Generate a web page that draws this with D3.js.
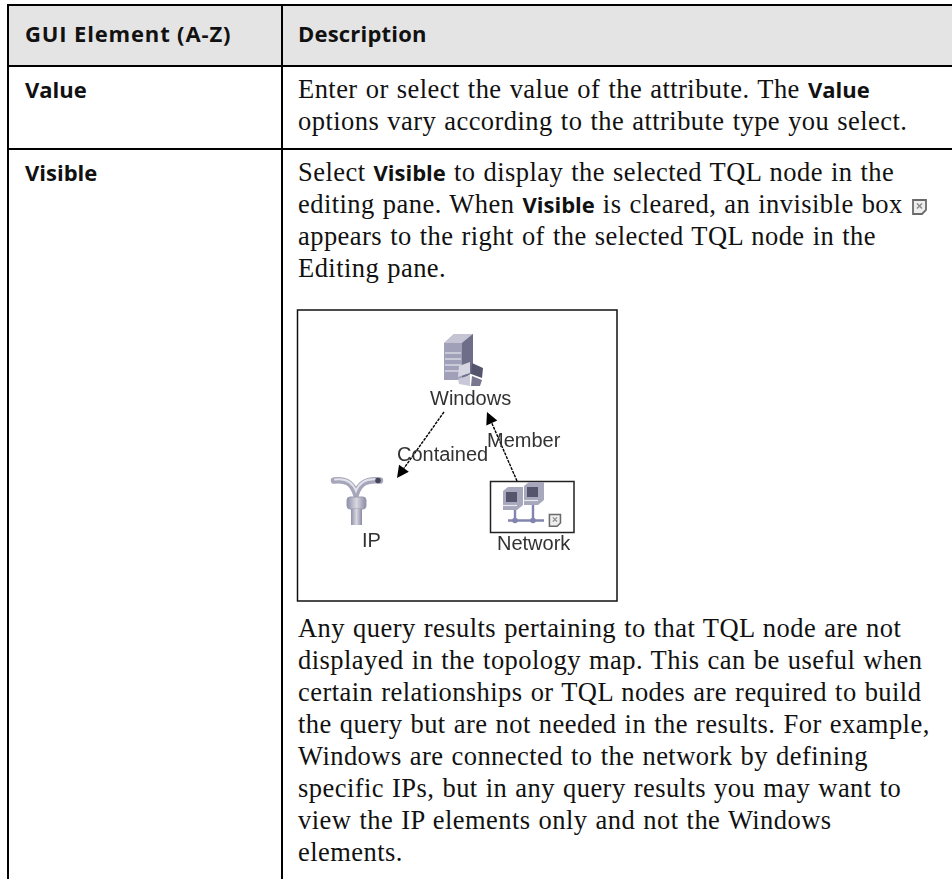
<!DOCTYPE html>
<html>
<head>
<meta charset="utf-8">
<script src="https://d3js.org/d3.v7.min.js"></script>
<style>
  html, body { margin: 0; padding: 0; background: #fff; }
  svg { display: block; }
  .head { font-family: "Open Sans", sans-serif; font-weight: 700; font-size: 22px; fill: #111; }
  .body { font-family: "Liberation Serif", serif; font-size: 26.5px; letter-spacing: 0.45px; word-spacing: 1px; fill: #111; }
  .b { font-family: "Open Sans", sans-serif; font-weight: 700; font-size: 22px; letter-spacing: 0; }
  .node { font-family: "Liberation Sans", sans-serif; font-size: 20px; fill: #333; }
</style>
</head>
<body>
<svg id="canvas"></svg>
<script>
const WIDTH = 952;
const HEIGHT = 879;
const LINE = 32;
const TEXT_X = 298;

const headers = ["GUI Element (A-Z)", "Description"];
const rowNames = ["Value", "Visible"];

// *...* marks the bold words
const valueLines = [
  "Enter or select the value of the attribute. The *Value*",
  "options vary according to the attribute type you select.",
];
const visibleLines = [
  "Select *Visible* to display the selected TQL node in the",
  "editing pane. When *Visible* is cleared, an invisible box",
  "appears to the right of the selected TQL node in the",
  "Editing pane.",
];
const afterLines = [
  "Any query results pertaining to that TQL node are not",
  "displayed in the topology map. This can be useful when",
  "certain relationships or TQL nodes are required to build",
  "the query but are not needed in the results. For example,",
  "Windows are connected to the network by defining",
  "specific IPs, but in any query results you may want to",
  "view the IP elements only and not the Windows",
  "elements.",
];

const nodeNames = ["Windows", "IP", "Network"];
const edgeNames = ["Contained", "Member"];

const svg = d3.select("#canvas").attr("width", WIDTH).attr("height", HEIGHT);

const defs = svg.append("defs");
defs.append("filter").attr("id", "soft")
  .append("feGaussianBlur").attr("stdDeviation", 0.55);

const addGradient = (id, stops, x2, y2) => {
  const g = defs.append("linearGradient").attr("id", id)
    .attr("x1", 0).attr("y1", 0).attr("x2", x2).attr("y2", y2);
  stops.forEach((c, i) => {
    g.append("stop").attr("offset", i / (stops.length - 1)).attr("stop-color", c);
  });
};
addGradient("pipe", ["#8f8fa8", "#d8d8e2", "#8a8aa4"], 1, 0);
addGradient("tube", ["#9c9cb2", "#dcdce6", "#74748e"], 0, 1);

// table frame
svg.append("rect").attr("x", 8).attr("y", 5).attr("width", WIDTH - 8).attr("height", 61).attr("fill", "#e4e4e4");

const hLines = [5, 66, 149];
svg.selectAll(".hline").data(hLines).enter().append("line")
  .attr("class", "hline")
  .attr("x1", 7).attr("x2", WIDTH)
  .attr("y1", (d) => d).attr("y2", (d) => d)
  .attr("stroke", "#000").attr("stroke-width", 2);

const vLines = [8, 282];
svg.selectAll(".vline").data(vLines).enter().append("line")
  .attr("class", "vline")
  .attr("x1", (d) => d).attr("x2", (d) => d)
  .attr("y1", 4).attr("y2", HEIGHT)
  .attr("stroke", "#000").attr("stroke-width", 2);

svg.selectAll(".top").data(headers).enter().append("text")
  .attr("class", "head top")
  .attr("x", (d, i) => (i === 0 ? 25 : TEXT_X))
  .attr("y", 41.5)
  .style("letter-spacing", (d, i) => (i === 0 ? "0.85px" : "0.2px"))
  .text((d) => d);

svg.selectAll(".row").data(rowNames).enter().append("text")
  .attr("class", "head row")
  .attr("x", 25)
  .attr("y", (d, i) => (i === 0 ? 97.5 : 180.5))
  .text((d) => d);

const drawLines = (lines, firstBaseline) => {
  const yScale = d3.scaleLinear().domain([0, 1]).range([firstBaseline, firstBaseline + LINE]);
  const t = svg.append("g").selectAll("text").data(lines).enter().append("text")
    .attr("class", "body")
    .attr("x", TEXT_X)
    .attr("y", (d, i) => yScale(i));
  t.selectAll("tspan")
    .data((d) => d.split("*").map((s, i) => ({ s, bold: i % 2 === 1 })))
    .enter().append("tspan")
    .attr("class", (d) => (d.bold ? "b" : null))
    .text((d) => d.s);
};

drawLines(valueLines, 97.5);
drawLines(visibleLines, 181);
drawLines(afterLines, 637);

// little "invisible" page icon, used in the text and on the Network node
const drawPageIcon = (parent, x, y, s) => {
  const g = parent.append("g").attr("transform", `translate(${x},${y}) scale(${s})`);
  g.append("path")
    .attr("d", "M0.5,0.5H13.5V10.5L9.5,14.5H0.5Z")
    .attr("fill", "#eee").attr("stroke", "#6a6a6a").attr("stroke-width", 1.8);
  g.append("path")
    .attr("d", "M4.5,4L9.5,9M9.5,4L4.5,9")
    .attr("stroke", "#888").attr("stroke-width", 1.4);
};
drawPageIcon(svg, 912.5, 199.5, 1);

// diagram
svg.append("rect")
  .attr("x", 297.5).attr("y", 310).attr("width", 319.5).attr("height", 291)
  .attr("fill", "#fff").attr("stroke", "#111").attr("stroke-width", 1.5);

const diagram = svg.append("g").attr("filter", "url(#soft)");

const poly = (pts, fill) => diagram.append("polygon").attr("points", pts).attr("fill", fill);

// Windows server
poly("444,343 454,334 473,334 473,372 462,380 444,380", "#a0a0b8");
poly("444,343 454,334 473,334 462,343", "#c4c4d4");
poly("462,343 473,334 473,372 462,380", "#6e6e88");
[353, 359, 365, 371].forEach((y) => {
  diagram.append("line").attr("x1", 445).attr("x2", 461).attr("y1", y).attr("y2", y)
    .attr("stroke", "#e4e4ec").attr("stroke-width", 1.2);
});
poly("459,366 470,362 470,373 458,377", "#d6d6e2");
poly("472,363 483,368 482,378 471,374", "#55556e");
poly("458,379 470,375 470,386 459,384", "#c8c8d8");
poly("472,376 482,380 480,386 471,386", "#77778e");

// IP pipe
diagram.append("path")
  .attr("d", "M334,480.5C345,479 352,482 356,494C360,482 368,479 380,480.5")
  .attr("fill", "none").attr("stroke", "#a6a6ba").attr("stroke-width", 6.5).attr("stroke-linecap", "round");
diagram.append("path")
  .attr("d", "M335,479.5C345,478 352,481 356,491C360,481 368,478 378,479.5")
  .attr("fill", "none").attr("stroke", "#e2e2ea").attr("stroke-width", 2).attr("stroke-linecap", "round");
diagram.append("circle").attr("cx", 378).attr("cy", 480.5).attr("r", 2.8).attr("fill", "#44445c");
diagram.append("rect").attr("x", 347).attr("y", 497).attr("width", 19).attr("height", 12).attr("rx", 3)
  .attr("fill", "url(#pipe)").attr("stroke", "#9a9aae");
diagram.append("rect").attr("x", 351).attr("y", 509).attr("width", 11).attr("height", 16)
  .attr("fill", "url(#pipe)");

// Network box and computers
diagram.append("rect").attr("x", 490.5).attr("y", 481.5).attr("width", 83.5).attr("height", 51)
  .attr("fill", "#fff").attr("stroke", "#222").attr("stroke-width", 1.5);
const computer = (x, y) => {
  poly(`${x},${y + 4} ${x + 5},${y} ${x + 20},${y} ${x + 20},${y + 18} ${x + 14},${y + 23} ${x},${y + 23}`, "#a8a8bc");
  poly(`${x + 3},${y + 5} ${x + 14},${y + 5} ${x + 14},${y + 15} ${x + 3},${y + 15}`, "#55556e");
  diagram.append("line").attr("x1", x).attr("x2", x + 14).attr("y1", y + 18.5).attr("y2", y + 18.5)
    .attr("stroke", "#e8e8f0").attr("stroke-width", 1.2);
};
computer(503, 487);
computer(524, 482);
diagram.append("path").attr("d", "M508,520.5H544M515,510V520.5M533,505V520.5")
  .attr("fill", "none").attr("stroke", "#8484b0").attr("stroke-width", 2.4);
diagram.selectAll(".joint").data([515, 533]).enter().append("circle")
  .attr("class", "joint").attr("cx", (d) => d).attr("cy", 520.5).attr("r", 2.8).attr("fill", "#8484b0");
drawPageIcon(diagram, 549, 514, 0.85);

// edges
const edges = [
  { from: [444, 412], to: [397, 478] },
  { from: [517, 481], to: [487, 412] },
];
edges.forEach((e) => {
  const a = Math.atan2(e.to[1] - e.from[1], e.to[0] - e.from[0]);
  const back = [e.to[0] - 12 * Math.cos(a), e.to[1] - 12 * Math.sin(a)];
  diagram.append("line")
    .attr("x1", e.from[0]).attr("y1", e.from[1]).attr("x2", back[0]).attr("y2", back[1])
    .attr("stroke", "#000").attr("stroke-width", 1.4).attr("stroke-dasharray", "3 1");
  const px = -Math.sin(a) * 6;
  const py = Math.cos(a) * 6;
  diagram.append("polygon")
    .attr("points", [e.to, [back[0] + px, back[1] + py], [back[0] - px, back[1] - py]].map((p) => p.join(",")).join(" "))
    .attr("fill", "#000");
});

const nodeLabelPos = [[430, 405], [362, 547], [497, 550]];
const edgeLabelPos = [[397, 461], [487, 447]];
diagram.selectAll(".nlabel").data(nodeNames).enter().append("text")
  .attr("class", "node nlabel")
  .attr("x", (d, i) => nodeLabelPos[i][0]).attr("y", (d, i) => nodeLabelPos[i][1])
  .text((d) => d);
diagram.selectAll(".elabel").data(edgeNames).enter().append("text")
  .attr("class", "node elabel")
  .attr("x", (d, i) => edgeLabelPos[i][0]).attr("y", (d, i) => edgeLabelPos[i][1])
  .text((d) => d);
</script>
</body>
</html>
